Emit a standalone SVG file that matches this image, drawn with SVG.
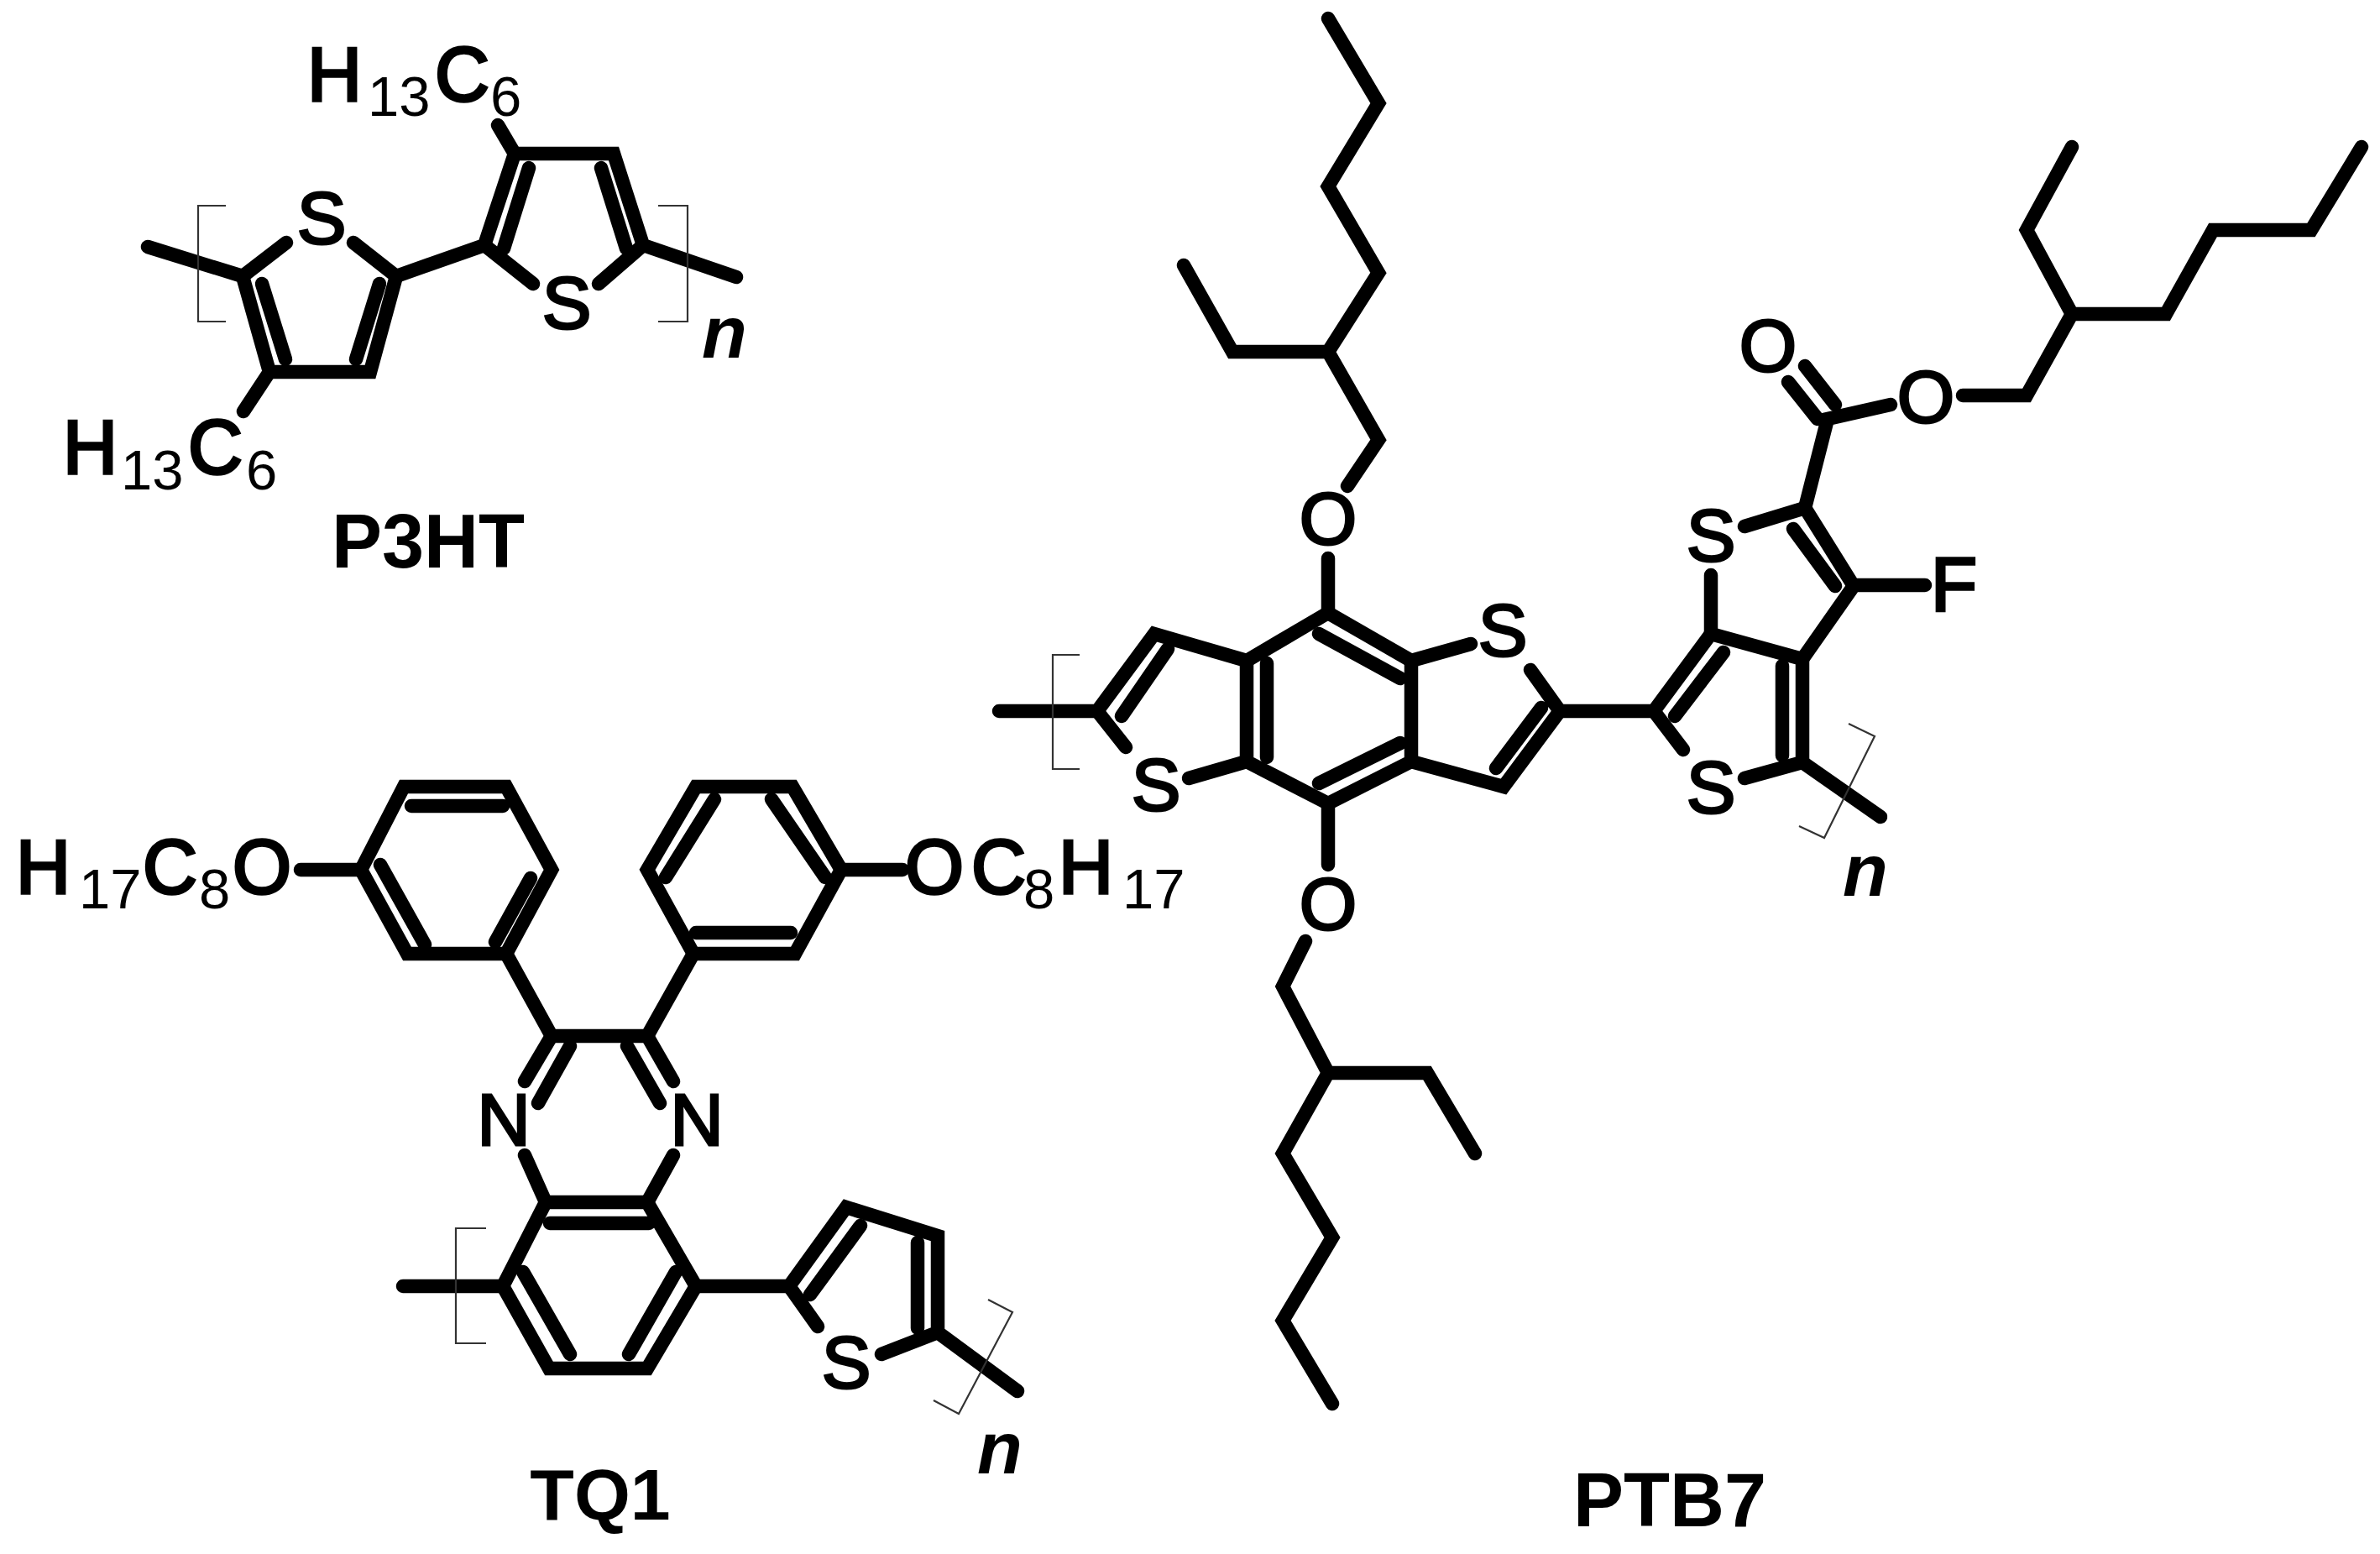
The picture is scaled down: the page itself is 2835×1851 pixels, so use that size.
<svg xmlns="http://www.w3.org/2000/svg" width="2835" height="1851" viewBox="0 0 2835 1851">
<style>
.bond{fill:none;stroke:#000;stroke-width:16.5;stroke-linecap:round;stroke-linejoin:miter}
.brk{fill:none;stroke:#333;stroke-width:2.2}
text{font-family:"Liberation Sans",Arial,sans-serif;fill:#000}
.a{font-size:88px;stroke:#000;stroke-width:3;text-anchor:middle}
.m{font-size:90px;stroke:#000;stroke-width:3.5}
.s{font-size:67px;stroke:none}
.n{font-size:88px;font-style:italic;font-weight:bold}
.l{font-size:90px;font-weight:bold;text-anchor:middle}
</style>
<rect width="2835" height="1851" fill="#fff"/>
<g id="P3HT">
<g id="P3HT-bonds" class="bond">
<path d="M176 294L289 329L341 289M421 289L472 329L441 443H321L289 329"/>
<path d="M312 338L340 428M452 338L424 428"/>
<path d="M472 329L577 292L613 183H731L766 292L877 330"/>
<path d="M577 292L635 338M713 338L766 292"/>
<path d="M600 296L630 200M716 200L746 296"/>
<path d="M613 183L593 149M321 443L290 490"/>
</g>
<path class="brk" d="M269 245H236V383H269M784 245H819V383H784"/>
<text class="a" x="383" y="290">S</text>
<text class="a" x="675" y="391">S</text>
<text class="m" x="366" y="120">H<tspan class="s" x="438" y="138">13</tspan><tspan x="518" y="120">C</tspan><tspan class="s" x="584" y="138">6</tspan></text>
<text class="m" x="75" y="564">H<tspan class="s" x="144" y="583">13</tspan><tspan x="224" y="564">C</tspan><tspan class="s" x="293" y="583">6</tspan></text>
<text class="n" x="836" y="426">n</text>
<text class="l" x="510" y="676">P3HT</text>
</g>
<g id="TQ1">
<g id="TQ1-bonds" class="bond">
<path d="M481 937H603L657 1036L603 1136H485L430 1036Z"/>
<path d="M490 960H599M632 1046L590 1122M453 1030L506 1125"/>
<path d="M358 1036H430"/>
<path d="M829 937H944L1002 1036L947 1136H826L771 1036Z"/>
<path d="M851 952L793 1045M919 952L983 1045M829 1111H942"/>
<path d="M1002 1036H1075"/>
<path d="M603 1136L657 1234H771L826 1136"/>
<path d="M657 1234L625 1288M679 1246L641 1314M771 1234L802 1288M747 1246L786 1314"/>
<path d="M625 1376L650 1432M802 1376L771 1432"/>
<path d="M650 1432H771L829 1532L771 1630H654L599 1532Z"/>
<path d="M655 1457H773M623 1515L679 1613M805 1515L749 1613"/>
<path d="M480 1532H599M829 1532H940"/>
<path d="M974 1580L940 1532L1008 1438L1117 1472V1587L1212 1657M1117 1587L1050 1613"/>
<path d="M1025 1460L965 1542M1093 1480V1582"/>
</g>
<path class="brk" d="M579 1463H543V1600H579M1177 1548L1206 1563L1142 1684L1112 1668"/>
<text class="m" x="19" y="1064">H<tspan class="s" x="94" y="1082">17</tspan><tspan x="170" y="1064">C</tspan><tspan class="s" x="237" y="1082">8</tspan><tspan x="277" y="1064">O</tspan></text>
<text class="m" x="1078" y="1064">O<tspan x="1157" y="1064">C</tspan><tspan class="s" x="1219" y="1082">8</tspan><tspan x="1261" y="1064">H</tspan><tspan class="s" x="1337" y="1082">17</tspan></text>
<text class="a" x="600" y="1364">N</text>
<text class="a" x="830" y="1364">N</text>
<text class="a" x="1008" y="1653">S</text>
<text class="n" x="1164" y="1755">n</text>
<text class="l" x="715" y="1810" style="font-size:86px">TQ1</text>
</g>
<g id="PTB7">
<g id="PTB7-bonds" class="bond">
<path d="M1190 847H1307L1375 755L1485 787L1582 730L1681 787L1752 767"/>
<path d="M1307 847L1341 890M1391 773L1336 853"/>
<path d="M1485 787V907L1582 957L1681 907V787"/>
<path d="M1509 790V902M1571 755L1668 808M1668 885L1571 933"/>
<path d="M1485 907L1416 927"/>
<path d="M1681 907L1791 937L1858 847L1823 798M1836 843L1782 915"/>
<path d="M1858 847H1970L2038 755L2147 785V908L2078 927M1970 847L2005 893"/>
<path d="M2053 777L1995 853M2123 793V900"/>
<path d="M2147 908L2240 973"/>
<path d="M2038 755V685M2078 627L2150 605L2208 698L2147 785M2136 630L2186 698M2208 697H2293"/>
<path d="M1582 730V665M1582 957V1030"/>
<path d="M2150 605L2177 499L2252 482M2130 455L2165 499M2150 436L2186 482"/>
<path d="M2338 471H2414L2468 374L2414 274L2468 175M2468 374H2580L2636 274H2753L2813 175"/>
<path d="M1582 22L1642 123L1582 222L1642 325L1582 419L1642 524L1605 579M1582 419H1468L1410 316"/>
<path d="M1555 1121L1528 1175L1582 1278H1700L1757 1374M1582 1278L1528 1374L1587 1474L1528 1573L1587 1672"/>
</g>
<path class="brk" d="M1286 780H1254V916H1286M2202 862L2233 877L2173 998L2143 984"/>
<text class="a" x="1582" y="648">O</text>
<text class="a" x="1582" y="1107">O</text>
<text class="a" x="1790" y="781">S</text>
<text class="a" x="1377" y="965">S</text>
<text class="a" x="2038" y="668">S</text>
<text class="a" x="2038" y="968">S</text>
<text class="a" x="2106" y="442">O</text>
<text class="a" x="2294" y="503">O</text>
<text class="m" x="2300" y="727">F</text>
<text class="n" x="2195" y="1067">n</text>
<text class="l" x="1989" y="1818">PTB7</text>
</g>
</svg>
